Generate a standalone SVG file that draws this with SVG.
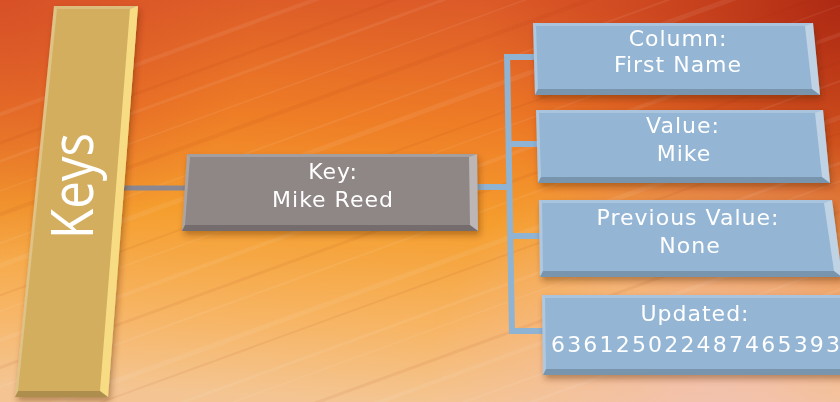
<svg xmlns="http://www.w3.org/2000/svg" width="840" height="402" viewBox="0 0 840 402">
<defs>
<linearGradient id="bg" x1="0.55" y1="0" x2="0.45" y2="1">
<stop offset="0" stop-color="#dc5a28"/>
<stop offset="0.3" stop-color="#ee7c26"/>
<stop offset="0.55" stop-color="#f59e2e"/>
<stop offset="0.8" stop-color="#f7b462"/>
<stop offset="1" stop-color="#f4c592"/>
</linearGradient>
<radialGradient id="tr" cx="840" cy="0" r="360" gradientUnits="userSpaceOnUse">
<stop offset="0" stop-color="#a82410" stop-opacity="0.9"/>
<stop offset="1" stop-color="#c83818" stop-opacity="0"/>
</radialGradient>
<radialGradient id="tl" cx="0" cy="0" r="260" gradientUnits="userSpaceOnUse">
<stop offset="0" stop-color="#d44a28" stop-opacity="0.7"/>
<stop offset="1" stop-color="#d44a28" stop-opacity="0"/>
</radialGradient>
<radialGradient id="br" cx="720" cy="420" r="300" gradientUnits="userSpaceOnUse">
<stop offset="0" stop-color="#f2c2b4" stop-opacity="0.9"/>
<stop offset="1" stop-color="#f2c2b4" stop-opacity="0"/>
</radialGradient>
<filter id="sh" x="-10%" y="-10%" width="130%" height="140%">
<feDropShadow dx="2" dy="4" stdDeviation="3" flood-color="#5a2a10" flood-opacity="0.4"/>
</filter>
<style>
.lbl{font-family:"DejaVu Sans","Liberation Sans",sans-serif;font-size:22px;fill:#ffffff;text-anchor:middle;letter-spacing:1px}
.rb{fill:#ffffff;fill-opacity:0.4}
.tb{fill:#ffffff;fill-opacity:0.2}
.lb{fill:#ffffff;fill-opacity:0.25}
.bb{fill:#000000;fill-opacity:0.18}
.blue{fill:#94b6d4}
.streak{stroke:#ffffff;stroke-opacity:0.07}
.streakd{stroke:#a03010;stroke-opacity:0.07}
.cb{stroke:#8fb3d2;stroke-width:6;fill:none}
</style>
</defs>
<g id="background">
<rect width="840" height="402" fill="url(#bg)"/>
<rect width="840" height="402" fill="url(#tl)"/>
<rect width="840" height="402" fill="url(#tr)"/>
<rect width="840" height="402" fill="url(#br)"/>
<g transform="rotate(-20 420 201)">
<line class="streak" x1="-200" y1="20" x2="1100" y2="20" stroke-width="3"/>
<line class="streak" x1="-200" y1="48" x2="1100" y2="48" stroke-width="1.5"/>
<line class="streakd" x1="-200" y1="70" x2="1100" y2="70" stroke-width="4"/>
<line class="streak" x1="-200" y1="97" x2="1100" y2="97" stroke-width="2"/>
<line class="streak" x1="-200" y1="118" x2="1100" y2="118" stroke-width="5"/>
<line class="streakd" x1="-200" y1="146" x2="1100" y2="146" stroke-width="2"/>
<line class="streak" x1="-200" y1="161" x2="1100" y2="161" stroke-width="1.5"/>
<line class="streak" x1="-200" y1="188" x2="1100" y2="188" stroke-width="4"/>
<line class="streakd" x1="-200" y1="214" x2="1100" y2="214" stroke-width="3"/>
<line class="streak" x1="-200" y1="232" x2="1100" y2="232" stroke-width="2"/>
<line class="streak" x1="-200" y1="266" x2="1100" y2="266" stroke-width="5"/>
<line class="streakd" x1="-200" y1="281" x2="1100" y2="281" stroke-width="2"/>
<line class="streak" x1="-200" y1="309" x2="1100" y2="309" stroke-width="3"/>
<line class="streak" x1="-200" y1="326" x2="1100" y2="326" stroke-width="1.5"/>
<line class="streakd" x1="-200" y1="355" x2="1100" y2="355" stroke-width="3"/>
<line class="streak" x1="-200" y1="376" x2="1100" y2="376" stroke-width="4"/>
<line class="streak" x1="-200" y1="405" x2="1100" y2="405" stroke-width="2"/>
<line class="streakd" x1="-200" y1="3" x2="1100" y2="3" stroke-width="3"/>
<line class="streak" x1="-200" y1="-24" x2="1100" y2="-24" stroke-width="4"/>
<line class="streak" x1="-200" y1="428" x2="1100" y2="428" stroke-width="3"/>
</g>
</g>
<g id="connectors">
<line x1="120" y1="188" x2="185" y2="188" stroke="#8a8790" stroke-width="5"/>
<line class="cb" x1="476" y1="187" x2="510" y2="187"/>
<line class="cb" x1="507" y1="54" x2="512" y2="334"/>
<line class="cb" x1="507" y1="57" x2="536" y2="57"/>
<line class="cb" x1="508" y1="144" x2="539" y2="144"/>
<line class="cb" x1="510" y1="236" x2="542" y2="236"/>
<line class="cb" x1="512" y1="331" x2="545" y2="331"/>
</g>
<g id="keys" filter="url(#sh)">
<polygon points="54,6 138,6 108,397 15,397" fill="#d3ae5e"/>
<polygon points="138,6 108,397 100,391 130,9" fill="#f8dc84"/>
<polygon class="tb" points="54,6 138,6 130,9 57,9"/>
<polygon class="lb" points="54,6 15,397 18,391 57,9"/>
<polygon class="bb" points="15,397 108,397 100,391 18,391"/>
<text transform="translate(93,186) rotate(-90)" x="0" y="0" font-family="Open Sans, DejaVu Sans, sans-serif" font-size="58" fill="#ffffff" text-anchor="middle" textLength="106" lengthAdjust="spacingAndGlyphs">Keys</text>
</g>
<g id="key" filter="url(#sh)">
<polygon points="187,154 477,154 478,231 182,231" fill="#8f8686"/>
<polygon class="rb" points="477,154 478,231 470,225 469,157"/>
<polygon class="tb" points="187,154 477,154 469,157 190,157"/>
<polygon class="lb" points="187,154 182,231 185,225 190,157"/>
<polygon class="bb" points="182,231 478,231 470,225 185,225"/>
<text class="lbl" x="333" y="179">Key:</text>
<text class="lbl" x="333" y="207">Mike Reed</text>
</g>
<g id="column" filter="url(#sh)">
<polygon class="blue" points="533,23 813,23 820,95 535,95"/>
<polygon class="rb" points="813,23 820,95 812,89 805,26"/>
<polygon class="tb" points="533,23 813,23 805,26 536,26"/>
<polygon class="lb" points="533,23 535,95 538,89 536,26"/>
<polygon class="bb" points="535,95 820,95 812,89 538,89"/>
<text class="lbl" x="678" y="46">Column:</text>
<text class="lbl" x="678" y="72">First Name</text>
</g>
<g id="value" filter="url(#sh)">
<polygon class="blue" points="536,110 823,110 830,183 538,183"/>
<polygon class="rb" points="823,110 830,183 822,177 815,113"/>
<polygon class="tb" points="536,110 823,110 815,113 539,113"/>
<polygon class="lb" points="536,110 538,183 541,177 539,113"/>
<polygon class="bb" points="538,183 830,183 822,177 541,177"/>
<text class="lbl" x="683" y="133">Value:</text>
<text class="lbl" x="684" y="161">Mike</text>
</g>
<g id="previous" filter="url(#sh)">
<polygon class="blue" points="539,200 832,200 842,277 540,277"/>
<polygon class="rb" points="832,200 842,277 834,271 824,203"/>
<polygon class="tb" points="539,200 832,200 824,203 542,203"/>
<polygon class="lb" points="539,200 540,277 543,271 542,203"/>
<polygon class="bb" points="540,277 842,277 834,271 543,271"/>
<text class="lbl" x="688" y="225">Previous Value:</text>
<text class="lbl" x="690" y="253">None</text>
</g>
<g id="updated" filter="url(#sh)">
<polygon class="blue" points="542,295 850,295 850,375 543,375"/>
<polygon class="tb" points="542,295 850,295 850,298 545,298"/>
<polygon class="lb" points="542,295 543,375 546,369 545,298"/>
<polygon class="bb" points="543,375 850,375 850,369 546,369"/>
<text class="lbl" x="695" y="321">Updated:</text>
<text class="lbl" x="551" y="352" style="text-anchor:start" font-size="22" textLength="290">636125022487465393</text>
</g>
</svg>
